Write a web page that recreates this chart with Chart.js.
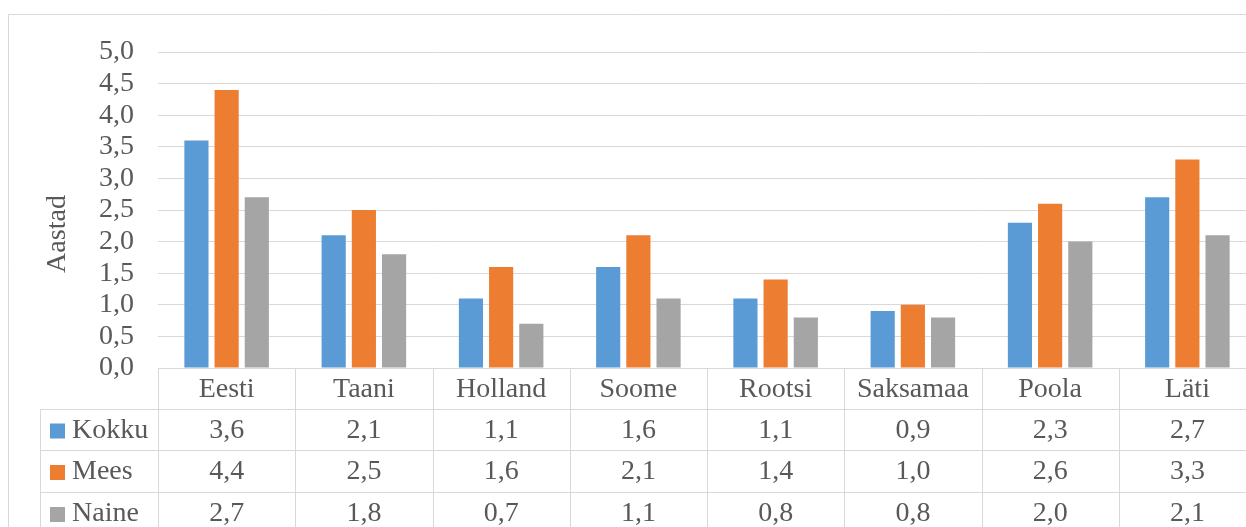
<!DOCTYPE html>
<html>
<head>
<meta charset="utf-8">
<script src="https://cdn.jsdelivr.net/npm/chart.js@4.4.1/dist/chart.umd.min.js"></script>
<style>
  html, body { margin: 0; padding: 0; background: #fff; overflow: hidden; }
  #wrap { position: relative; width: 1262px; height: 527px; }
</style>
</head>
<body>
<div id="wrap"><canvas id="chart"></canvas></div>
<script>
// Andmed
const riigid = ['Eesti', 'Taani', 'Holland', 'Soome', 'Rootsi', 'Saksamaa', 'Poola', 'Läti'];
const kokku = [3.6, 2.1, 1.1, 1.6, 1.1, 0.9, 2.3, 2.7];
const mees  = [4.4, 2.5, 1.6, 2.1, 1.4, 1.0, 2.6, 3.3];
const naine = [2.7, 1.8, 0.7, 1.1, 0.8, 0.8, 2.0, 2.1];
const seeriad = ['Kokku', 'Mees', 'Naine'];
const varvid = ['#5b9bd5', '#ed7d31', '#a5a5a5'];
const teljeNimi = 'Aastad';

const FONT = '"Liberation Serif", "Times New Roman", serif';
const TEXT = '#595959';
const LINE = '#d9d9d9';
const fmt = v => v.toFixed(1).replace('.', ',');

// tabel, telje nimi ja raam
const tablePlugin = {
    id: 'dataTable',
    afterDraw(chart) {
        const ctx = chart.ctx;
        const x = chart.scales.x;
        const a = chart.chartArea;
        const H = chart.height;
        const rows = [a.bottom, a.bottom + 41, a.bottom + 82, a.bottom + 124, a.bottom + 166];
        const leftX = 40;
        ctx.save();
        ctx.strokeStyle = LINE;
        ctx.lineWidth = 1;

        // välimine raam
        ctx.beginPath();
        ctx.moveTo(8.5, H + 5); ctx.lineTo(8.5, 14.5); ctx.lineTo(chart.width + 5, 14.5);
        ctx.stroke();

        // horisontaalsed jooned
        ctx.beginPath();
        ctx.moveTo(a.left, rows[0] + 0.5); ctx.lineTo(a.right, rows[0] + 0.5);
        for (let i = 1; i < rows.length; i++) {
            ctx.moveTo(leftX, Math.round(rows[i]) + 0.5); ctx.lineTo(a.right, Math.round(rows[i]) + 0.5);
        }
        // vertikaalsed jooned
        ctx.moveTo(leftX + 0.5, rows[1]); ctx.lineTo(leftX + 0.5, H);
        const step = (a.right - a.left) / riigid.length;
        for (let i = 0; i <= riigid.length; i++) {
            const px = Math.round(a.left + i * step) + 0.5;
            ctx.moveTo(px, rows[0]); ctx.lineTo(px, H);
        }
        ctx.stroke();

        // tekst
        ctx.fillStyle = TEXT;
        ctx.font = '28px ' + FONT;
        ctx.textAlign = 'center';
        ctx.textBaseline = 'middle';
        riigid.forEach((r, i) => {
            ctx.fillText(r, x.getPixelForValue(i), (rows[0] + rows[1]) / 2 + 1);
        });
        const data = [kokku, mees, naine];
        data.forEach((arr, s) => {
            const cy = (rows[s + 1] + rows[s + 2]) / 2 + 1;
            arr.forEach((v, i) => ctx.fillText(fmt(v), x.getPixelForValue(i), cy));
            ctx.fillStyle = varvid[s];
            ctx.fillRect(50, cy - 7, 15, 15);
            ctx.fillStyle = TEXT;
            ctx.textAlign = 'left';
            ctx.fillText(seeriad[s], 72, cy);
            ctx.textAlign = 'center';
        });

        // y-telje nimi
        ctx.translate(58, 234);
        ctx.rotate(-Math.PI / 2);
        ctx.fillText(teljeNimi, 0, 0);
        ctx.restore();
    }
};

new Chart(document.getElementById('chart'), {
    type: 'bar',
    data: {
        labels: riigid,
        datasets: [
            { label: seeriad[0], data: kokku, backgroundColor: varvid[0] },
            { label: seeriad[1], data: mees, backgroundColor: varvid[1] },
            { label: seeriad[2], data: naine, backgroundColor: varvid[2] }
        ]
    },
    options: {
        responsive: true,
        maintainAspectRatio: false,
        animation: false,
        devicePixelRatio: 1,
        layout: { padding: { top: 52, right: 6, bottom: 159, left: 0 } },
        datasets: { bar: { barPercentage: 0.8, categoryPercentage: 0.66 } },
        plugins: { legend: { display: false }, tooltip: { enabled: false } },
        scales: {
            x: {
                ticks: { display: false },
                grid: { display: false, drawTicks: false },
                border: { display: false }
            },
            y: {
                min: 0, max: 5,
                afterFit: s => { s.width = 158; },
                ticks: {
                    stepSize: 0.5,
                    autoSkip: false,
                    padding: 24,
                    color: TEXT,
                    font: { family: FONT, size: 28 },
                    callback: v => fmt(v)
                },
                grid: { color: LINE, lineWidth: 1, drawTicks: false },
                border: { display: false }
            }
        }
    },
    plugins: [tablePlugin]
});
</script>
</body>
</html>
